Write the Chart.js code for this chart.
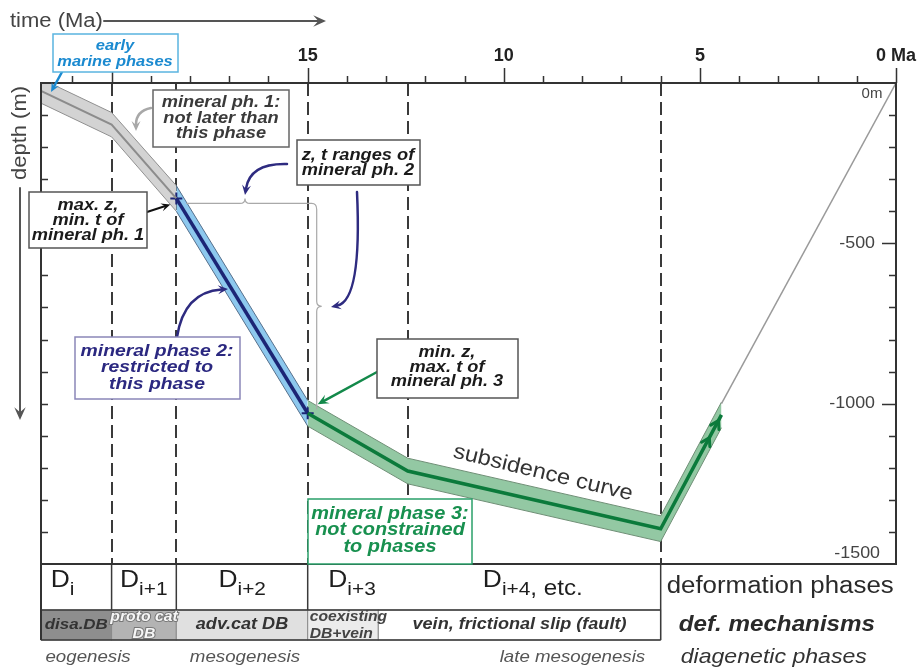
<!DOCTYPE html>
<html>
<head>
<meta charset="utf-8">
<script src="https://cdn.jsdelivr.net/npm/chart.js@4.4.1/dist/chart.umd.min.js"></script>
<style>
  html, body { margin: 0; padding: 0; background: #fff; }
  #wrap { width: 919px; height: 668px; }
</style>
</head>
<body>
<div id="wrap"><canvas id="c" width="919" height="668"></canvas></div>
<script>
// ---- burial path (time in Ma, depth in m) ----
const timeMa   = [21.8, 20, 18.35, 15, 12.45, 6, 4.45];
const depthM   = [-25, -130, -360, -1030, -1210, -1390, -1035];
const bandHalf = [38, 38, 40, 40, 40, 40, 40];     // depth uncertainty (± m)
const grayIdx  = [0, 1, 2];          // mineral phase 1 range
const blueIdx  = [2, 3];             // mineral phase 2 range
const greenIdx = [3, 4, 5, 6];       // mineral phase 3 range
const markIdx  = [2, 3];             // z/t limit markers
const upliftTime  = [4.45, 0];
const upliftDepth = [-1000, 0];

// ---- axes ----
const xTicks = [15, 10, 5, 0];
const yTicks = [0, -500, -1000, -1500];
const timeMax = 21.8;

// ---- phase boundaries and table rows ----
const phaseBounds   = [20, 18.35, 15, 12.45, 6];
const tableBounds   = [21.8, 20, 18.35, 15, 6];
const defPhaseSub   = ['i', 'i+1', 'i+2', 'i+3', 'i+4'];
const defPhaseTail  = ['', '', '', '', ', etc.'];
const defPhaseAt    = [21.25, 19.18, 16.67, 13.87, 9.26];
const mechBounds    = [21.8, 20, 18.35, 15, 13.2, 6];
const mechLabels    = [['disa.DB'], ['proto cat', 'DB'], ['adv.cat DB'], ['coexisting', 'DB+vein'], ['vein, frictional slip (fault)']];
const diagLabels    = ['eogenesis', 'mesogenesis', 'late mesogenesis'];
const diagAt        = [20.6, 16.6, 8.25];
const rowTitles     = ['deformation phases', 'def. mechanisms', 'diagenetic phases'];

const FONT = "'Liberation Sans', Arial, Helvetica, sans-serif";
const mechFill = ['#8e8e8e', '#b3b3b3', '#e0e0e0', '#ececec', '#ffffff'];

function pts(idx, k) {
  return idx.map(i => ({ x: timeMa[i], y: depthM[i] + k * bandHalf[i] }));
}

function T(ctx, s, x, y, o) {
  const size = o.size || 16, weight = o.weight || 'normal', style = o.style || 'normal';
  ctx.save();
  ctx.font = `${style} ${weight} ${size}px ${FONT}`;
  ctx.fillStyle = o.color || '#222';
  ctx.textAlign = o.align || 'center';
  ctx.textBaseline = o.base || 'middle';
  ctx.translate(x, y);
  if (o.rot) ctx.rotate(o.rot);
  ctx.scale(o.sx || 1.1, 1);
  if (o.stroke) { ctx.strokeStyle = o.stroke; ctx.lineWidth = 2; ctx.strokeText(s, 0, 0); }
  ctx.fillText(s, 0, 0);
  ctx.restore();
}

function arrow(ctx, x0, y0, cx, cy, x1, y1, color, w, head) {
  const a = cx == null ? Math.atan2(y1 - y0, x1 - x0) : Math.atan2(y1 - cy, x1 - cx);
  const ex = x1 - Math.cos(a) * head * 0.6, ey = y1 - Math.sin(a) * head * 0.6;
  ctx.save();
  ctx.strokeStyle = color; ctx.fillStyle = color; ctx.lineWidth = w; ctx.lineCap = 'round';
  ctx.beginPath(); ctx.moveTo(x0, y0);
  if (cx == null) ctx.lineTo(ex, ey); else ctx.quadraticCurveTo(cx, cy, ex, ey);
  ctx.stroke();
  ctx.beginPath();
  ctx.moveTo(x1, y1);
  ctx.lineTo(x1 - head * Math.cos(a - 0.42), y1 - head * Math.sin(a - 0.42));
  ctx.lineTo(x1 - head * 0.55 * Math.cos(a), y1 - head * 0.55 * Math.sin(a));
  ctx.lineTo(x1 - head * Math.cos(a + 0.42), y1 - head * Math.sin(a + 0.42));
  ctx.closePath(); ctx.fill();
  ctx.restore();
}

function box(ctx, x0, y0, x1, y1, stroke, lines, cx, ys, o) {
  ctx.save();
  ctx.fillStyle = '#fff'; ctx.fillRect(x0, y0, x1 - x0, y1 - y0);
  ctx.strokeStyle = stroke; ctx.lineWidth = 1.5; ctx.strokeRect(x0, y0, x1 - x0, y1 - y0);
  ctx.restore();
  lines.forEach((s, i) => T(ctx, s, cx, ys[i], o));
}

const diagram = {
  id: 'diagram',
  beforeDatasetsDraw(chart) {
    const ctx = chart.ctx, a = chart.chartArea, xs = chart.scales.x;
    ctx.save();
    ctx.strokeStyle = '#3a3a3a'; ctx.lineWidth = 2; ctx.setLineDash([13, 6]);
    phaseBounds.forEach(t => {
      const x = Math.round(xs.getPixelForValue(t));
      ctx.beginPath(); ctx.moveTo(x, a.top); ctx.lineTo(x, a.bottom); ctx.stroke();
    });
    ctx.restore();
  },
  afterDatasetsDraw(chart) {
    const ctx = chart.ctx, a = chart.chartArea, xs = chart.scales.x, ys = chart.scales.y;
    const X = v => xs.getPixelForValue(v), Y = v => ys.getPixelForValue(v);

    // green arrowheads on the uplift limb
    const g0 = { x: X(timeMa[5]), y: Y(depthM[5]) }, g1 = { x: X(timeMa[6]), y: Y(depthM[6]) };
    const ang = Math.atan2(g1.y - g0.y, g1.x - g0.x);
    ctx.save(); ctx.strokeStyle = '#0b7a3b'; ctx.lineWidth = 3; ctx.lineCap = 'round';
    [0.8, 0.95].forEach(f => {
      const px = g0.x + (g1.x - g0.x) * f, py = g0.y + (g1.y - g0.y) * f;
      ctx.beginPath();
      ctx.moveTo(px - 9 * Math.cos(ang - 0.55), py - 9 * Math.sin(ang - 0.55));
      ctx.lineTo(px, py);
      ctx.lineTo(px - 9 * Math.cos(ang + 0.55), py - 9 * Math.sin(ang + 0.55));
      ctx.stroke();
    });
    ctx.restore();

    // ---- table below the plot ----
    const r0 = a.bottom, r1 = a.bottom + 46, r2 = a.bottom + 76;
    const xl = a.left, xr = X(tableBounds[tableBounds.length - 1]);
    ctx.save();
    for (let i = 0; i < mechLabels.length; i++) {
      const x0 = X(mechBounds[i]), x1 = X(mechBounds[i + 1]);
      ctx.fillStyle = mechFill[i]; ctx.fillRect(x0, r1, x1 - x0, r2 - r1);
      ctx.strokeStyle = '#8a8a8a'; ctx.lineWidth = 1; ctx.strokeRect(x0, r1, x1 - x0, r2 - r1);
    }
    ctx.strokeStyle = '#3a3a3a'; ctx.lineWidth = 1.5;
    ctx.beginPath();
    ctx.moveTo(xl, r1); ctx.lineTo(xr, r1);
    ctx.moveTo(xl, r2); ctx.lineTo(xr, r2);
    ctx.moveTo(xr, r0); ctx.lineTo(xr, r2);
    [20, 18.35, 15].forEach(t => { ctx.moveTo(X(t), r0); ctx.lineTo(X(t), r1); });
    ctx.stroke();
    ctx.restore();

    // deformation phase labels (D with subscript)
    defPhaseSub.forEach((sub, i) => {
      const cx = X(defPhaseAt[i]);
      ctx.save();
      ctx.font = `normal 24px ${FONT}`; const wD = ctx.measureText('D').width * 1.1;
      ctx.font = `normal 19px ${FONT}`; const wS = ctx.measureText(sub).width * 1.1;
      ctx.font = `normal 22px ${FONT}`; const wT = ctx.measureText(defPhaseTail[i]).width * 1.1;
      ctx.restore();
      const x0 = cx - (wD + wS + wT) / 2;
      T(ctx, 'D', x0, r0 + 23, { size: 24, align: 'left', base: 'alphabetic', color: '#1e1e1e' });
      T(ctx, sub, x0 + wD, r0 + 31, { size: 19, align: 'left', base: 'alphabetic', color: '#1e1e1e' });
      if (defPhaseTail[i]) T(ctx, defPhaseTail[i], x0 + wD + wS, r0 + 31, { size: 22, align: 'left', base: 'alphabetic', color: '#1e1e1e' });
    });

    // deformation mechanisms
    mechLabels.forEach((lines, i) => {
      const x0 = X(mechBounds[i]), x1 = X(mechBounds[i + 1]);
      const cy = (r1 + r2) / 2;
      if (i === 3) {
        T(ctx, lines[0], x0 + 2, cy - 8, { size: 14.5, weight: 'bold', style: 'italic', align: 'left', color: '#444', sx: 1.08 });
        T(ctx, lines[1], x0 + 2, cy + 9, { size: 14.5, weight: 'bold', style: 'italic', align: 'left', color: '#444', sx: 1.08 });
      } else if (lines.length === 2) {
        T(ctx, lines[0], (x0 + x1) / 2, cy - 8, { size: 15, weight: 'bold', style: 'italic', color: '#f6f6f6', stroke: '#777', sx: 1.05 });
        T(ctx, lines[1], (x0 + x1) / 2, cy + 9, { size: 15, weight: 'bold', style: 'italic', color: '#f6f6f6', stroke: '#777', sx: 1.05 });
      } else {
        T(ctx, lines[0], (x0 + x1) / 2, cy, { size: i === 0 ? 15 : 16, weight: 'bold', style: 'italic', color: '#333', sx: 1.13 });
      }
    });

    // diagenetic phases
    diagLabels.forEach((s, i) => T(ctx, s, X(diagAt[i]), r2 + 17, { size: 17, style: 'italic', color: '#555' }));

    // row titles
    T(ctx, rowTitles[0], xr + 6, r0 + 23, { size: 23.5, align: 'left', color: '#2a2a2a' });
    T(ctx, rowTitles[1], xr + 18, (r1 + r2) / 2, { size: 22, weight: 'bold', style: 'italic', align: 'left', color: '#2a2a2a' });
    T(ctx, rowTitles[2], xr + 20, r2 + 17, { size: 21, style: 'italic', align: 'left', color: '#333' });

    // ---- frame and ticks ----
    ctx.save();
    ctx.strokeStyle = '#333'; ctx.lineWidth = 2;
    ctx.beginPath();
    ctx.moveTo(a.left, r2); ctx.lineTo(a.left, a.top); ctx.lineTo(a.right, a.top); ctx.lineTo(a.right, a.bottom); ctx.lineTo(a.left, a.bottom);
    ctx.stroke();
    ctx.lineWidth = 1.5;
    ctx.beginPath();
    for (let t = 0; t <= Math.floor(timeMax); t++) {
      const x = Math.round(X(t)) + 0.5, len = t % 5 === 0 ? 15 : 7;
      ctx.moveTo(x, a.top); ctx.lineTo(x, a.top - len);
    }
    for (let d = -100; d > -1500; d -= 100) {
      const y = Math.round(Y(d)) + 0.5, len = d % 500 === 0 ? 14 : 7;
      ctx.moveTo(a.right, y); ctx.lineTo(a.right - len, y);
      ctx.moveTo(a.left, y); ctx.lineTo(a.left + 7, y);
    }
    ctx.stroke();
    ctx.restore();

    // depth labels along the right axis
    yTicks.forEach(d => {
      if (d === 0) T(ctx, '0m', a.right - 24, Y(d) + 11, { size: 15, color: '#444', sx: 1.0 });
      else if (d === -1500) T(ctx, String(d), a.right - 16, Y(d) - 11, { size: 17, align: 'right', color: '#444', sx: 1.05 });
      else T(ctx, String(d), a.right - 21, Y(d), { size: 17, align: 'right', color: '#444', sx: 1.05 });
    });

    // ---- braces: z, t range of mineral phase 2 ----
    const bx0 = X(timeMa[2]) + 10, bx1 = X(timeMa[3]) + 4, by = Y(depthM[2]) + 5;
    const vy1 = Y(depthM[3]) - 4, bm = (bx0 + bx1) / 2 - 4, vm = (by + vy1) / 2;
    ctx.save(); ctx.strokeStyle = '#a9a9a9'; ctx.lineWidth = 1.2;
    ctx.beginPath();
    ctx.moveTo(bx0, by); ctx.lineTo(bm - 5, by); ctx.quadraticCurveTo(bm, by, bm, by - 5);
    ctx.quadraticCurveTo(bm, by, bm + 5, by); ctx.lineTo(bx1, by);
    ctx.quadraticCurveTo(bx1 + 5, by, bx1 + 5, by + 6);
    ctx.lineTo(bx1 + 5, vm - 5); ctx.quadraticCurveTo(bx1 + 5, vm, bx1 + 10, vm);
    ctx.quadraticCurveTo(bx1 + 5, vm, bx1 + 5, vm + 5); ctx.lineTo(bx1 + 5, vy1);
    ctx.stroke(); ctx.restore();

    // ---- annotations ----
    const bi = { weight: 'bold', style: 'italic', size: 16, sx: 1.14 };
    arrow(ctx, 62, 72, null, null, 51, 92, '#1b8ad0', 2.5, 10);
    box(ctx, 53, 34, 178, 72, '#5ab4e0', ['early', 'marine phases'], 115, [46, 62], { ...bi, size: 15, sx: 1.1, color: '#1b8ad0' });

    arrow(ctx, 151, 108, 136, 111, 136, 131, '#a8a8a8', 2.5, 11);
    box(ctx, 153, 90, 289, 147, '#666', ['mineral ph. 1:', 'not later than', 'this phase'], 221, [103, 118.5, 134], { ...bi, color: '#3a3a3a' });

    arrow(ctx, 147, 212, null, null, X(timeMa[2]) - 6, Y(depthM[2]) + 6, '#111', 2, 10);
    box(ctx, 29, 192, 147, 248, '#555', ['max. z,', 'min. t of', 'mineral ph. 1'], 88, [206, 221, 236], { ...bi, color: '#1a1a1a' });

    arrow(ctx, 287, 164, 250, 163, 245, 195, '#2e2b80', 2.5, 11);
    arrow(ctx, 357, 192, 362, 300, 331, 307, '#2e2b80', 2.5, 11);
    box(ctx, 297, 140, 420, 185, '#555', ['z, t ranges of', 'mineral ph. 2'], 358, [156, 171], { ...bi, color: '#1a1a1a' });

    arrow(ctx, 177, 337, 184, 292, 228, 289, '#2e2b80', 2.5, 11);
    box(ctx, 75, 337, 240, 399, '#8a86b8', ['mineral phase 2:', 'restricted to', 'this phase'], 157, [351, 367.5, 384], { ...bi, size: 17, color: '#2b2880' });

    arrow(ctx, 377, 372, null, null, X(timeMa[3]) + 10, Y(depthM[3]) - 9, '#13894a', 2.5, 12);
    box(ctx, 377, 339, 518, 398, '#555', ['min. z,', 'max. t of', 'mineral ph. 3'], 447, [353, 367.5, 382], { ...bi, color: '#1a1a1a' });

    box(ctx, 308, 499, 472, a.bottom, '#2aa06a', ['mineral phase 3:', 'not constrained', 'to phases'], 390, [514, 530.5, 547], { ...bi, size: 17.5, color: '#18904f' });

    T(ctx, 'subsidence curve', 543, 473, { size: 21.5, color: '#333', rot: 13.5 * Math.PI / 180 });
  },
  afterDraw(chart) {
    const ctx = chart.ctx;
    // time arrow
    T(ctx, 'time (Ma)', 10, 21, { size: 20, align: 'left', color: '#444' });
    arrow(ctx, 104, 21, null, null, 326, 21, '#555', 2, 14);
    // depth arrow
    T(ctx, 'depth (m)', 20, 133, { size: 20, color: '#444', rot: -Math.PI / 2 });
    arrow(ctx, 20, 188, null, null, 20, 420, '#555', 2, 14);
  }
};

const lineDs = (data, o) => Object.assign({ data, pointRadius: 0, borderWidth: 1, fill: false, tension: 0 }, o);

new Chart(document.getElementById('c'), {
  type: 'line',
  data: {
    datasets: [
      lineDs(pts(greenIdx, 0), { borderColor: '#0b7a3b', borderWidth: 3.5 }),
      lineDs(pts(blueIdx, 0),  { borderColor: '#1c2575', borderWidth: 3.5 }),
      lineDs(pts(grayIdx, 0),  { borderColor: '#8c8c8c', borderWidth: 2 }),
      lineDs(markIdx.map(i => ({ x: timeMa[i], y: depthM[i] })), { showLine: false, pointRadius: 6, pointStyle: 'cross', borderColor: '#1c2575', borderWidth: 2 }),
      lineDs(upliftTime.map((t, i) => ({ x: t, y: upliftDepth[i] })), { borderColor: '#9a9a9a', borderWidth: 1.5 }),
      lineDs(pts(greenIdx, 1),  { borderColor: '#6f8f76' }),
      lineDs(pts(greenIdx, -1), { borderColor: '#6f8f76', fill: '-1', backgroundColor: '#93c8a3' }),
      lineDs(pts(blueIdx, 1),   { borderColor: '#56708c' }),
      lineDs(pts(blueIdx, -1),  { borderColor: '#56708c', fill: '-1', backgroundColor: '#8dc8ee' }),
      lineDs(pts(grayIdx, 1),   { borderColor: '#909090' }),
      lineDs(pts(grayIdx, -1),  { borderColor: '#909090', fill: '-1', backgroundColor: '#d3d3d3' })
    ]
  },
  options: {
    responsive: false,
    animation: false,
    devicePixelRatio: 1,
    layout: { padding: { left: 41, right: 23, top: 38, bottom: 104 } },
    plugins: { legend: { display: false }, tooltip: { enabled: false } },
    scales: {
      x: {
        type: 'linear', position: 'top', min: 0, max: timeMax, reverse: true,
        afterFit: s => { s.height = 45; },
        afterBuildTicks: s => { s.ticks = xTicks.map(v => ({ value: v })); },
        grid: { display: false, drawTicks: true, tickLength: 16 },
        border: { display: false },
        ticks: {
          padding: 0, autoSkip: false, maxRotation: 0, color: '#222',
          font: { family: FONT, size: 18, weight: 'bold' },
          callback: v => (v === 0 ? '0 Ma' : String(v))
        }
      },
      y: {
        type: 'linear', display: false, min: yTicks[yTicks.length - 1], max: yTicks[0]
      }
    }
  },
  plugins: [diagram]
});
</script>
</body>
</html>
